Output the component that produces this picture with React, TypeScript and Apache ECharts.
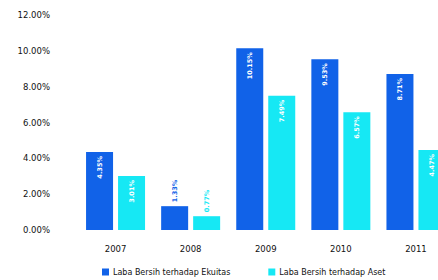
import React, { useEffect, useRef } from "react";
import * as echarts from "echarts";

const years = ["2007", "2008", "2009", "2010", "2011"];
const ekuitas = [4.35, 1.33, 10.15, 9.53, 8.71];
const aset = [3.01, 0.77, 7.49, 6.57, 4.47];
const seriesNames = ["Laba Bersih terhadap Ekuitas", "Laba Bersih terhadap Aset"];
const yTicks = { min: 0, max: 12, interval: 2 };

const BLUE = "#1162e8";
const CYAN = "#16e8f4";
const FONT = "DejaVu Sans";

function buildData(values: number[], color: string) {
  return values.map((v) =>
    v < 2
      ? {
          value: v,
          label: {
            position: "top",
            align: "left",
            color: color,
            distance: 4,
          },
        }
      : { value: v }
  );
}

export default function App() {
  const ref = useRef<HTMLDivElement>(null);
  useEffect(() => {
    if (!ref.current) return;
    const chart = echarts.init(ref.current, null, { renderer: "svg" });
    const labelBase = {
      show: true,
      position: "insideTop",
      rotate: 90,
      align: "right",
      verticalAlign: "middle",
      distance: 4,
      color: "#ffffff",
      fontFamily: FONT,
      fontWeight: "bold",
      fontSize: 6.5,
      formatter: (p: any) => Number(p.value).toFixed(2) + "%",
    };
    chart.setOption({
      animation: false,
      backgroundColor: "#ffffff",
      grid: { left: 78, right: 6.5, top: 15, bottom: 50 },
      xAxis: {
        type: "category",
        data: years,
        axisLine: { show: false },
        axisTick: { show: false },
        axisLabel: {
          margin: 14,
          color: "#111",
          fontFamily: FONT,
          fontSize: 8.5,
        },
      },
      yAxis: {
        type: "value",
        min: yTicks.min,
        max: yTicks.max,
        interval: yTicks.interval,
        splitLine: { show: false },
        axisLine: { show: false },
        axisTick: { show: false },
        axisLabel: {
          margin: 28,
          color: "#111",
          fontFamily: FONT,
          fontSize: 8.5,
          formatter: (v: number) => v.toFixed(2) + "%",
        },
      },
      legend: {
        left: 97,
        top: 263,
        itemWidth: 7,
        itemHeight: 7,
        itemGap: 38,
        icon: "rect",
        textStyle: { color: "#111", fontFamily: FONT, fontSize: 8, padding: [0, 0, 0, -1] },
        data: seriesNames,
      },
      series: [
        {
          name: seriesNames[0],
          type: "bar",
          barWidth: 27,
          barGap: "18.5%",
          itemStyle: { color: BLUE },
          label: labelBase,
          data: buildData(ekuitas, BLUE),
        },
        {
          name: seriesNames[1],
          type: "bar",
          barWidth: 27,
          itemStyle: { color: CYAN },
          label: labelBase,
          data: buildData(aset, CYAN),
        },
      ],
    });
    return () => chart.dispose();
  }, []);
  return (
    <div
      style={{
        position: "fixed",
        left: 0,
        top: 0,
        width: 438,
        height: 280,
        overflow: "hidden",
        background: "#fff",
      }}
    >
      <div ref={ref} style={{ width: 460, height: 280 }} />
    </div>
  );
}
